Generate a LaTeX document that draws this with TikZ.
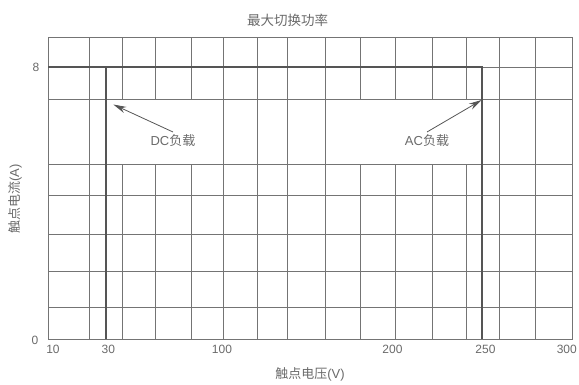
\documentclass[tikz,border=0pt]{standalone}
\usepackage{fontspec}
\setmainfont{Liberation Sans}
\newfontfamily\cjk{Noto Sans CJK SC}
\usetikzlibrary{arrows.meta}
\definecolor{gridgray}{HTML}{747474}
\definecolor{loadgray}{HTML}{555555}
\definecolor{textgray}{HTML}{6A6A6A}
\tikzset{
    gridline/.style={draw=gridgray, line width=0.9pt},
    loadline/.style={draw=loadgray, line width=1.5pt},
    tick/.style={text=textgray, font=\fontsize{12}{13}\selectfont, inner sep=0pt},
    axislabel/.style={text=textgray, font=\fontsize{13}{14}\selectfont, inner sep=0pt},
    loadlabel/.style={axislabel, outer sep=3pt},
    pointer/.style={draw=loadgray, line width=0.8pt, -{Stealth[length=13pt,width=6.5pt]}}
}

\begin{document}
\begin{tikzpicture}[x=1pt, y=-1pt]
    \useasboundingbox (0,0) rectangle (579,385);

            %%draw the grid
            \foreach \gx in {89, 223.3, 257.3, 287.3, 325.7, 499.3, 535.7}
                \draw[gridline] (\gx, 37.7) to (\gx, 339.3);
            \foreach \gx in {122, 155.3, 191.7, 360, 395.7, 432.7, 466.3}{
                \draw[gridline] (\gx, 37.7) to (\gx, 99);
                \draw[gridline] (\gx, 164.3) to (\gx, 339.3);
            }
            \foreach \gy in {99, 164.3, 195.7, 234, 271.7, 307.7}
                \draw[gridline] (48.3, \gy) to (572.3, \gy);
            \draw[gridline] (482, 67) to (572.3, 67);
            \draw[gridline] (48.3, 37.7) rectangle (572.3, 339.3);

            %%draw the load lines
            \draw[loadline] (48.3, 67) to (482, 67) to (482, 339.3);
            \draw[loadline] (106, 67) to (106, 339.3);

            %%ticks
                \node[tick] (y8) at (36, 67.5){8};
                \node[tick] (y0) at (35, 340.5){0};
                \node[tick] (x10) at (53, 349.7){10};
                \node[tick] (x30) at (108.3, 349.7){30};
                \node[tick] (x100) at (222, 349.7){100};
                \node[tick] (x200) at (392.5, 349.7){200};
                \node[tick] (x250) at (485.5, 349.7){250};
                \node[tick] (x300) at (566.8, 349.7){300};

            %%titles
                \node[axislabel, font=\fontsize{13.5}{14}\selectfont\cjk] (title) at (287.5, 20.5){最大切换功率};
                \node[axislabel] (xlabel) at (310, 374){{\cjk 触点电压}(V)};
                \node[axislabel, rotate=90] (ylabel) at (15, 199){{\cjk 触点电流}(A)};

            %%load labels
                \node[loadlabel] (dc) at (173, 141){DC{\cjk 负载}};
                \coordinate (dctip) at (113.3, 104.5);
            \draw[pointer] (dc.north) to (dctip);
                \node[loadlabel] (ac) at (427, 141){AC{\cjk 负载}};
                \coordinate (actip) at (481.7, 100);
            \draw[pointer] (ac.north) to (actip);

\end{tikzpicture}
\end{document}
